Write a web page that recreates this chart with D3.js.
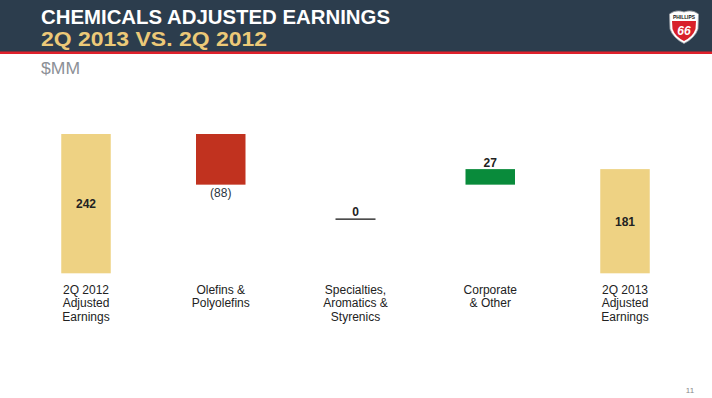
<!DOCTYPE html>
<html>
<head>
<meta charset="utf-8">
<script src="https://cdn.jsdelivr.net/npm/d3@7"></script>
<style>
  html, body { margin: 0; padding: 0; background: #fff; }
  svg { display: block; }
</style>
</head>
<body>
<div id="chart"></div>
<script>
// Données du graphique (waterfall)
const categories = [
    ["2Q 2012", "Adjusted", "Earnings"],
    ["Olefins &", "Polyolefins"],
    ["Specialties,", "Aromatics &", "Styrenics"],
    ["Corporate", "& Other"],
    ["2Q 2013", "Adjusted", "Earnings"]
];
const values = [242, -88, 0, 27, 181];
const kinds = ["total", "delta", "delta", "delta", "total"];
const valueLabels = ["242", "(88)", "0", "27", "181"];
// niveau où la référence trace le segment "0"
const zeroMarkLevel = 94;

const W = 712, H = 398;

const svg = d3.select("#chart")
    .append("svg")
    .attr("width", W)
    .attr("height", H);

// En-tête
svg.append("rect").attr("x", 0).attr("y", 0).attr("width", W).attr("height", 52).attr("fill", "#2c3d4d");
svg.append("rect").attr("x", 0).attr("y", 51.5).attr("width", W).attr("height", 2.5).attr("fill", "#e0212b");

const headFont = "'Liberation Sans', Arial, sans-serif";

svg.append("text")
    .attr("x", 41).attr("y", 24)
    .attr("fill", "#ffffff")
    .attr("font-family", headFont)
    .attr("font-weight", "bold")
    .attr("font-size", "19.5px")
    .attr("textLength", 349)
    .attr("lengthAdjust", "spacingAndGlyphs")
    .text("CHEMICALS ADJUSTED EARNINGS");

svg.append("text")
    .attr("x", 41).attr("y", 46.3)
    .attr("fill", "#ecc978")
    .attr("font-family", headFont)
    .attr("font-weight", "bold")
    .attr("font-size", "19.5px")
    .attr("textLength", 226)
    .attr("lengthAdjust", "spacingAndGlyphs")
    .text("2Q 2013 VS. 2Q 2012");

svg.append("text")
    .attr("x", 41).attr("y", 74)
    .attr("fill", "#8c9096")
    .attr("font-family", headFont)
    .attr("font-size", "16.5px")
    .attr("textLength", 39)
    .attr("lengthAdjust", "spacingAndGlyphs")
    .text("$MM");

// Logo
const logo = svg.append("g");
logo.append("path")
    .attr("d", "M669.5,14 Q676,9 684,12 Q692,9 698.5,14 L698,29 Q695,38 684,43.5 Q673,38 670,29 Z")
    .attr("fill", "#ffffff").attr("stroke", "#9aa0a6").attr("stroke-width", 0.8);
logo.append("path")
    .attr("d", "M672,21 L696,21 L695.5,29 Q693,36.5 684,41 Q675,36.5 672.5,29 Z")
    .attr("fill", "#d8202a");
logo.append("text")
    .attr("x", 684).attr("y", 19.3)
    .attr("text-anchor", "middle")
    .attr("font-family", headFont)
    .attr("font-weight", "bold")
    .attr("font-size", "5.5px")
    .attr("textLength", 22)
    .attr("lengthAdjust", "spacingAndGlyphs")
    .attr("fill", "#111")
    .text("PHILLIPS");
logo.append("text")
    .attr("x", 684).attr("y", 34.5)
    .attr("text-anchor", "middle")
    .attr("font-family", headFont)
    .attr("font-weight", "bold")
    .attr("font-style", "italic")
    .attr("font-size", "12px")
    .attr("fill", "#ffffff")
    .text("66");

// Calcul des barres
let running = 0;
const bars = values.map((v, i) => {
    let y0, y1;
    if (kinds[i] === "total") {
        y0 = 0; y1 = v; running = v;
    } else {
        y0 = running; y1 = running + v; running = y1;
    }
    return { i, v, lo: Math.min(y0, y1), hi: Math.max(y0, y1), kind: kinds[i], label: valueLabels[i], cat: categories[i] };
});

// Escalas
const x = d3.scalePoint()
    .domain(d3.range(categories.length))
    .range([86, 625]);

const y = d3.scaleLinear()
    .domain([0, d3.max(bars, d => d.hi)])
    .range([273.3, 134]);

const barW = 49.5;
const colorFor = d => d.kind === "total" ? "#eed283" : (d.v < 0 ? "#c1321f" : "#098b3b");

// Barras
svg.selectAll(".bar")
    .data(bars.filter(d => d.v !== 0))
    .enter()
    .append("rect")
    .attr("class", "bar")
    .attr("x", d => x(d.i) - barW / 2)
    .attr("y", d => y(d.hi))
    .attr("width", barW)
    .attr("height", d => y(d.lo) - y(d.hi))
    .attr("fill", colorFor);

// segment pour la valeur nulle
svg.selectAll(".zero")
    .data(bars.filter(d => d.v === 0))
    .enter()
    .append("line")
    .attr("x1", d => x(d.i) - 20)
    .attr("x2", d => x(d.i) + 20)
    .attr("y1", y(zeroMarkLevel))
    .attr("y2", y(zeroMarkLevel))
    .attr("stroke", "#111")
    .attr("stroke-width", 1.3);

// Étiquettes de valeur
const labelY = d => {
    if (d.kind === "total") return (y(d.lo) + y(d.hi)) / 2 + 4.5;
    if (d.v < 0) return y(d.lo) + 12;
    if (d.v > 0) return y(d.hi) - 2.5;
    return y(zeroMarkLevel) - 3.5;
};

svg.selectAll(".vlabel")
    .data(bars)
    .enter()
    .append("text")
    .attr("class", "vlabel")
    .attr("x", d => x(d.i))
    .attr("y", labelY)
    .attr("text-anchor", "middle")
    .attr("font-family", "'Liberation Sans', Arial, sans-serif")
    .attr("font-weight", d => d.v < 0 ? "normal" : "bold")
    .attr("font-size", "12px")
    .attr("fill", d => d.v < 0 ? "#2b3440" : "#222")
    .text(d => d.label);

// Étiquettes des catégories
const catG = svg.selectAll(".cat")
    .data(bars)
    .enter()
    .append("text")
    .attr("class", "cat")
    .attr("x", d => x(d.i))
    .attr("y", 293.5)
    .attr("text-anchor", "middle")
    .attr("font-family", "'Liberation Sans', Arial, sans-serif")
    .attr("font-size", "12px")
    .attr("fill", "#222");

catG.selectAll("tspan")
    .data(d => d.cat.map(t => ({ t, x: x(d.i) })))
    .enter()
    .append("tspan")
    .attr("x", d => d.x)
    .attr("dy", (d, j) => j === 0 ? 0 : 13.5)
    .text(d => d.t);

// Numéro de page
svg.append("text")
    .attr("x", 690).attr("y", 393)
    .attr("text-anchor", "middle")
    .attr("font-family", "'Liberation Sans', Arial, sans-serif")
    .attr("font-size", "8px")
    .attr("fill", "#888")
    .text("11");
</script>
</body>
</html>
